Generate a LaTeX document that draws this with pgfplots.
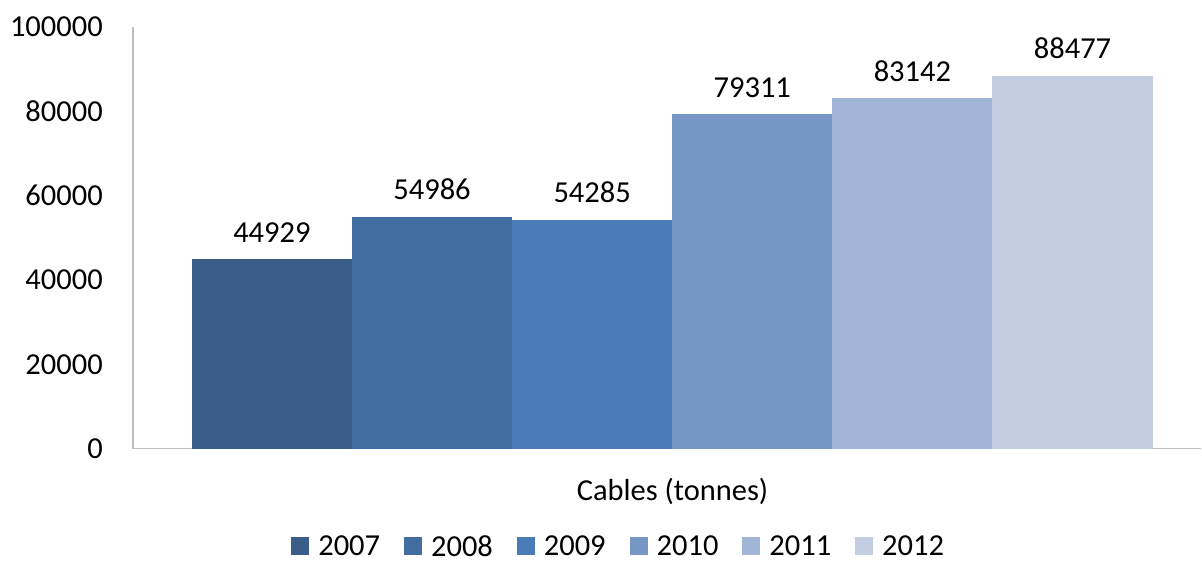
\documentclass[border=0pt]{standalone}
\usepackage{fontspec}
\setmainfont{Carlito}
\usepackage{pgfplots}
\pgfplotsset{compat=1.18}
\definecolor{c07}{RGB}{58,93,138}
\definecolor{c08}{RGB}{66,109,160}
\definecolor{c09}{RGB}{74,125,183}
\definecolor{c10}{RGB}{118,150,198}
\definecolor{c11}{RGB}{161,181,214}
\definecolor{c12}{RGB}{195,206,227}
\definecolor{axgray}{RGB}{190,190,190}
\begin{document}
\begin{tikzpicture}
\begin{axis}[
  at={(0pt,0pt)}, anchor=south west,
  scale only axis, width=1069pt, height=422pt,
  xmin=-0.868, xmax=5.805, ymin=0, ymax=100000,
  ybar, bar width=1, bar shift=0pt,
  axis x line=bottom, axis y line=left,
  axis line style={axgray, line width=1.2pt, -},
  xtick=\empty,
  ytick={0,20000,40000,60000,80000,100000},
  yticklabels={0,20000,40000,60000,80000,100000},
  major tick length=0pt,
  scaled y ticks=false,
  tick label style={font=\fontsize{30.5}{36}\selectfont},
  yticklabel style={anchor=east, inner sep=0pt, xshift=-30pt},
  point meta=explicit symbolic,
  nodes near coords,
  every node near coord/.append style={font=\fontsize{30.5}{36}\selectfont, anchor=base, inner sep=0pt, yshift=17pt, black},
  legend columns=6,
  legend style={draw=none, font=\fontsize{30.5}{36}\selectfont, at={(axis description cs:0.4546,-0.2322)}, anchor=center,
    /tikz/every odd column/.append style={column sep=7pt},
    /tikz/every even column/.append style={column sep=22pt}},
  legend image code/.code={\fill[#1] (0pt,-8pt) rectangle (18pt,10pt);},
  clip=false,
]
\addplot[fill=c07, draw=none] coordinates {(0,44929) [44929]};
\addplot[fill=c08, draw=none] coordinates {(1,54986) [54986]};
\addplot[fill=c09, draw=none] coordinates {(2,54285) [54285]};
\addplot[fill=c10, draw=none] coordinates {(3,79311) [79311]};
\addplot[fill=c11, draw=none] coordinates {(4,83142) [83142]};
\addplot[fill=c12, draw=none] coordinates {(5,88477) [88477]};
\legend{2007,2008,2009,2010,2011,2012}
\node[font=\fontsize{30.5}{36}\selectfont] at (rel axis cs:0.505,0) [yshift=-43pt] {Cables (tonnes)};
\end{axis}
\path[use as bounding box] (-133pt,-110pt) rectangle (1069pt,449pt);
\end{tikzpicture}
\end{document}
